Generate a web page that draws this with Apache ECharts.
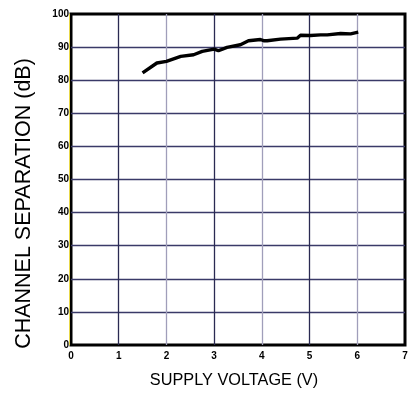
<!DOCTYPE html>
<html><head><meta charset="utf-8">
<script src="https://cdn.jsdelivr.net/npm/echarts@6/dist/echarts.min.js"></script>
<style>html,body{margin:0;padding:0;background:#fff}#c{width:412px;height:394px}</style>
</head><body><div id="c"></div>
<script>
var voltage = [1.5, 1.8, 2.0, 2.3, 2.57, 2.75, 3.0, 3.09, 3.27, 3.55, 3.72, 3.97, 4.05, 4.11, 4.39, 4.74, 4.81, 5.02, 5.23, 5.37, 5.65, 5.86, 6.02];
var separation = [82.2, 85.2, 85.7, 87.2, 87.7, 88.7, 89.4, 88.9, 89.9, 90.7, 91.9, 92.3, 91.9, 91.9, 92.4, 92.7, 93.6, 93.5, 93.7, 93.7, 94.1, 94.0, 94.5];
var xTicks = ['0','1','2','3','4','5','6','7'];
var yTicks = ['0','10','20','30','40','50','60','70','80','90','100'];

var chart = echarts.init(document.getElementById('c'));
var F = 'Liberation Sans, Arial, sans-serif';
chart.setOption({
  animation: false,
  grid: {left: 71, right: 7, top: 14, bottom: 47, show: true, borderColor: '#000', borderWidth: 3, backgroundColor: '#fff'},
  xAxis: {
    type: 'value', min: 0, max: 7, interval: 1,
    name: 'SUPPLY VOLTAGE (V)', nameLocation: 'middle', nameGap: 28,
    nameTextStyle: {fontFamily: F, fontSize: 16.3, color: '#000', padding: [0, 8, 0, 0]},
    axisLine: {show: false}, axisTick: {show: false},
    axisLabel: {fontFamily: F, fontSize: 10, fontWeight: 'bold', color: '#000', margin: 6,
      formatter: function (v) { return xTicks[Math.round(v)]; }},
    splitLine: {show: true, showMinLine: false, showMaxLine: false,
      lineStyle: {color: ['#2a2a52', '#a09eba'], width: 1.3}}
  },
  yAxis: [{
    type: 'value', min: 0, max: 100, interval: 10,
    name: 'CHANNEL SEPARATION (dB)', nameLocation: 'middle', nameGap: 36,
    nameTextStyle: {fontFamily: F, fontSize: 21.5, color: '#000', padding: [0, 48, 0, 0]},
    axisLine: {show: false}, axisTick: {show: false},
    axisLabel: {fontFamily: F, fontSize: 10, fontWeight: 'bold', color: '#000', margin: 2,
      formatter: function (v) { return yTicks[Math.round(v / 10)]; }},
    splitLine: {show: true, showMinLine: false, showMaxLine: false,
      lineStyle: {color: '#3a3a68', width: 1.3}}
  }, {
    type: 'value', min: 0, max: 100, position: 'left', offset: 2,
    axisLine: {show: true, lineStyle: {color: '#e8d84a', width: 1}},
    axisTick: {show: false}, axisLabel: {show: false}, splitLine: {show: false}
  }],
  series: [{
    type: 'line', showSymbol: false, symbol: 'none',
    data: voltage.map(function (v, i) { return [v, separation[i]]; }),
    lineStyle: {color: '#000', width: 3.4}
  }]
});
</script></body></html>
